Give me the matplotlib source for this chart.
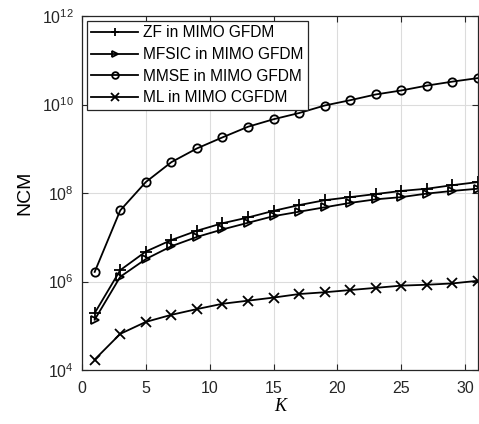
import numpy as np
import matplotlib.pyplot as plt
from matplotlib.ticker import NullLocator

K = [1, 3, 5, 7, 9, 11, 13, 15, 17, 19, 21, 23, 25, 27, 29, 31]

# log10 of NCM
zf_log = [5.29, 6.26, 6.68, 6.94, 7.15, 7.32, 7.45, 7.60, 7.73, 7.84, 7.91, 7.98, 8.05, 8.10, 8.18, 8.25]
mfsic_log = [5.14, 6.11, 6.51, 6.80, 7.01, 7.18, 7.33, 7.48, 7.58, 7.68, 7.78, 7.86, 7.91, 7.99, 8.05, 8.10]
mmse_log = [6.22, 7.61, 8.25, 8.70, 9.01, 9.26, 9.50, 9.67, 9.81, 9.98, 10.10, 10.23, 10.32, 10.43, 10.52, 10.60]
ml_log = [4.24, 4.82, 5.09, 5.25, 5.38, 5.50, 5.57, 5.64, 5.72, 5.76, 5.81, 5.86, 5.91, 5.93, 5.96, 6.02]

labels = ['ZF in MIMO GFDM', 'MFSIC in MIMO GFDM', 'MMSE in MIMO GFDM', 'ML in MIMO CGFDM']
markers = ['+', '>', 'o', 'x']

plt.rcParams['font.family'] = ['Liberation Sans', 'DejaVu Sans']
plt.rcParams['font.size'] = 11

fig = plt.figure(figsize=(4.79, 4.24), dpi=100)
ax = fig.add_axes([0.171, 0.127, 0.827, 0.835])

series = [zf_log, mfsic_log, mmse_log, ml_log]
sizes = {'+': 8, '>': 6, 'o': 6, 'x': 6.5}
for vals, lab, mk in zip(series, labels, markers):
    y = 10 ** np.array(vals)
    ax.plot(K, y, color='black', lw=1.3, marker=mk, markersize=sizes[mk],
            markerfacecolor='none', markeredgewidth=1.3, label=lab)

ax.set_yscale('log')
ax.set_xlim(0, 31)
ax.set_ylim(1e4, 1e12)
ax.set_xticks([0, 5, 10, 15, 20, 25, 30])
ax.set_yticks([1e4, 1e6, 1e8, 1e10, 1e12])
ax.yaxis.set_minor_locator(NullLocator())
ax.tick_params(direction='in', top=True, right=True, length=4, colors='#262626',
               labelsize=11.5, labelcolor='#262626')
ax.tick_params(axis='x', pad=8)
ax.tick_params(axis='y', pad=6)
ax.grid(True, color='#dcdcdc', lw=0.8)
ax.set_axisbelow(True)
for s in ax.spines.values():
    s.set_color('#262626')
    s.set_linewidth(0.9)

ax.set_xlabel('K', family='Liberation Serif', style='italic', fontsize=13, labelpad=1)
ax.set_ylabel('NCM', fontsize=14, labelpad=6)

leg = ax.legend(loc='upper left', fontsize=11.2, handlelength=3.0, borderaxespad=0.3,
                labelspacing=0.42, handletextpad=0.35, fancybox=False, framealpha=1,
                borderpad=0.3, markerscale=0.8)
leg.get_frame().set_edgecolor('#262626')
leg.get_frame().set_linewidth(0.9)

fig.savefig('out.png', dpi=100)
